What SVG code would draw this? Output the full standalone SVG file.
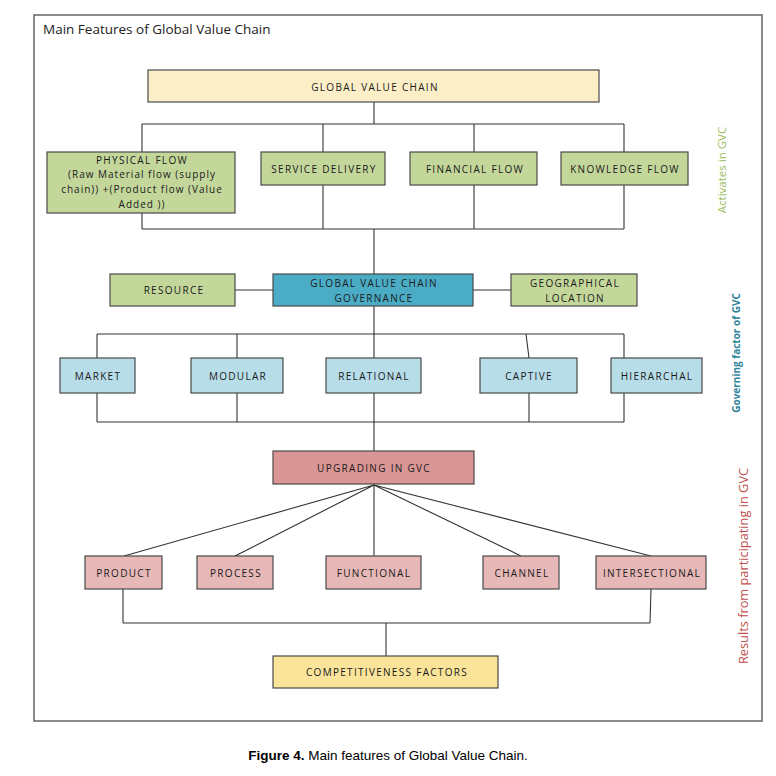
<svg xmlns="http://www.w3.org/2000/svg" width="776" height="776" viewBox="0 0 776 776">
<style>
.box{stroke:#4a4a4a;stroke-width:1.2}
.t{font-family:"Open Sans","Liberation Sans",sans-serif;font-size:10px;letter-spacing:1.3px;fill:#1a1a1a;text-anchor:middle;dominant-baseline:central}
.m{letter-spacing:1px;font-size:10px}
.c{fill:none;stroke:#333;stroke-width:1.1}
.yel{fill:#FCEFC8}
.grn{fill:#C4D79B}
.teal{fill:#4BACC6}
.lb{fill:#B7DDE8}
.rose{fill:#D99694}
.pink{fill:#E6B8B7}
.gold{fill:#F9E49A}
.side{font-family:"Open Sans","Liberation Sans",sans-serif;font-size:10px;text-anchor:middle}
</style>
<rect x="0" y="0" width="776" height="776" fill="#fff"/>
<rect x="34" y="15" width="728" height="706" fill="none" stroke="#666" stroke-width="1.5"/>
<text x="43" y="34" font-family="Open Sans, Liberation Sans, sans-serif" font-size="13.5" fill="#222">Main Features of Global Value Chain</text>

<g id="connectors">
<path class="c" d="M374 102V124M142 124H624M142 124V152M323 124V152M474 124V152M624 124V152"/>
<path class="c" d="M142 213V229M323 185V229M474 185V229M624 185V229M142 229H624M374 229V274"/>
<path class="c" d="M235 290H273M473 290H511"/>
<path class="c" d="M374 306V334M97 334H624M97 334V358M237 334V358M374 334V358M526 334L529 358M624 334V358"/>
<path class="c" d="M97 393V422M237 393V422M374 393V422M529 393V422M624 393V422M97 422H624M374 422V451"/>
<path class="c" d="M374 485L124 556M374 485L235 556M374 485V556M374 485L521 556M374 485L651 556"/>
<path class="c" d="M123 589V623M651 589L650 623M123 623H650M386 623V656"/>
</g>

<g id="gvc"><rect class="box yel" x="148" y="70" width="451" height="32"/><text class="t" x="375" y="87">GLOBAL VALUE CHAIN</text></g>

<g id="physical"><rect class="box grn" x="47" y="152" width="188" height="61"/>
<text class="t" x="142" y="160">PHYSICAL FLOW</text>
<text class="t m" x="142" y="174">(Raw Material flow (supply</text>
<text class="t m" x="142" y="189">chain)) +(Product flow (Value</text>
<text class="t m" x="142" y="204">Added ))</text></g>
<g id="service"><rect class="box grn" x="261" y="152" width="124" height="33"/><text class="t" x="324" y="169">SERVICE DELIVERY</text></g>
<g id="financial"><rect class="box grn" x="410" y="152" width="127" height="33"/><text class="t" x="475" y="169">FINANCIAL FLOW</text></g>
<g id="knowledge"><rect class="box grn" x="561" y="152" width="127" height="33"/><text class="t" x="625" y="169">KNOWLEDGE FLOW</text></g>

<g id="resource"><rect class="box grn" x="110" y="274" width="125" height="32"/><text class="t" x="174" y="290">RESOURCE</text></g>
<g id="governance"><rect class="box teal" x="273" y="274" width="200" height="32"/><text class="t" x="374" y="283">GLOBAL VALUE CHAIN</text><text class="t" x="374" y="298">GOVERNANCE</text></g>
<g id="geo"><rect class="box grn" x="511" y="274" width="126" height="32"/><text class="t" x="575" y="283">GEOGRAPHICAL</text><text class="t" x="575" y="298">LOCATION</text></g>

<g id="market"><rect class="box lb" x="60" y="358" width="75" height="35"/><text class="t" x="98" y="376">MARKET</text></g>
<g id="modular"><rect class="box lb" x="191" y="358" width="92" height="35"/><text class="t" x="238" y="376">MODULAR</text></g>
<g id="relational"><rect class="box lb" x="326" y="358" width="95" height="35"/><text class="t" x="374" y="376">RELATIONAL</text></g>
<g id="captive"><rect class="box lb" x="480" y="358" width="97" height="35"/><text class="t" x="529" y="376">CAPTIVE</text></g>
<g id="hierarchal"><rect class="box lb" x="611" y="358" width="91" height="35"/><text class="t" x="657" y="376">HIERARCHAL</text></g>

<g id="upgrading"><rect class="box rose" x="273" y="451" width="201" height="33"/><text class="t" x="374" y="468">UPGRADING IN GVC</text></g>

<g id="product"><rect class="box pink" x="85" y="556" width="77" height="33"/><text class="t" x="124" y="573">PRODUCT</text></g>
<g id="process"><rect class="box pink" x="197" y="556" width="76" height="33"/><text class="t" x="236" y="573">PROCESS</text></g>
<g id="functional"><rect class="box pink" x="326" y="556" width="95" height="33"/><text class="t" x="374" y="573">FUNCTIONAL</text></g>
<g id="channel"><rect class="box pink" x="483" y="556" width="76" height="33"/><text class="t" x="522" y="573">CHANNEL</text></g>
<g id="intersectional"><rect class="box pink" x="596" y="556" width="110" height="33"/><text class="t" x="652" y="573">INTERSECTIONAL</text></g>

<g id="competitiveness"><rect class="box gold" x="273" y="656" width="225" height="32"/><text class="t" x="387" y="672">COMPETITIVENESS FACTORS</text></g>

<text class="side" transform="translate(726 170) rotate(-90)" fill="#9BBB59" style="font-size:11.5px">Activates in GVC</text>
<text class="side" transform="translate(740 353) rotate(-90)" fill="#31849B" font-weight="bold">Governing factor of GVC</text>
<text class="side" transform="translate(748 566) rotate(-90)" fill="#C0504D" style="font-size:12.8px">Results from participating in GVC</text>

<text x="388" y="760" font-family="Liberation Sans, Arial, sans-serif" font-size="13.5" text-anchor="middle" fill="#000"><tspan font-weight="bold">Figure 4.</tspan> Main features of Global Value Chain.</text>
</svg>
